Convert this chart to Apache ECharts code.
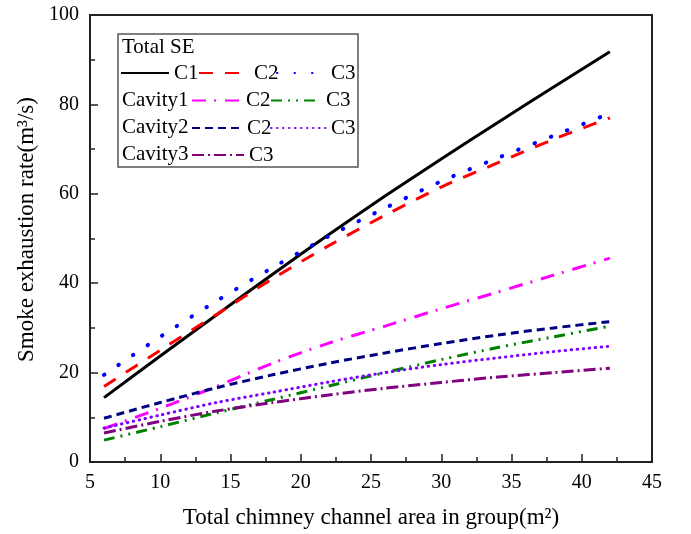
<!DOCTYPE html>
<html>
<head>
<meta charset="utf-8">
<script src="https://cdn.jsdelivr.net/npm/echarts@6/dist/echarts.min.js"></script>
<style>
  html, body { margin: 0; padding: 0; background: #fff; }
  #main { width: 691px; height: 534px; }
</style>
</head>
<body>
<div id="main"></div>
<script>
    // area values (m2)
    var areas = [6, 10, 14, 18, 22, 26, 30, 34, 38, 42];

    // smoke exhaustion rate (m3/s)
    var totalC1 = [14.4, 23.7, 32.9, 42.0, 50.9, 59.5, 67.8, 75.9, 83.9, 91.8];
    var totalC2 = [16.9, 25.0, 33.0, 41.0, 48.4, 55.2, 61.5, 66.9, 72.2, 77.0];
    var totalC3 = [19.5, 28.0, 36.0, 43.5, 50.5, 56.8, 62.8, 68.0, 73.0, 78.0];
    var cavity1C2 = [7.5, 12.0, 16.9, 22.1, 26.6, 30.4, 34.3, 38.0, 41.8, 45.6];
    var cavity1C3 = [4.9, 7.9, 11.0, 14.0, 17.0, 20.0, 22.9, 25.6, 28.0, 30.4];
    var cavity2C2 = [9.8, 13.3, 16.6, 19.5, 22.1, 24.4, 26.5, 28.4, 30.0, 31.4];
    var cavity2C3 = [7.6, 10.5, 13.3, 15.6, 17.9, 20.0, 21.8, 23.3, 24.7, 25.9];
    var cavity3C3 = [6.5, 9.1, 11.4, 13.3, 15.0, 16.5, 17.8, 19.0, 20.0, 21.0];

    var groupLabels = ['Total SE', 'Cavity1', 'Cavity2', 'Cavity3'];

    var serif = 'Liberation Serif';

    function pairs(ys) {
        return areas.map(function (x, i) { return [x, ys[i]]; });
    }

    // name, data, colour, dash, cap, width, legend label, legend left, legend row, icon width
    var lines = [
        ['Total SE C1', totalC1, '#000000', 'solid', 'butt', 3, 'C1', 120, 0, 48],
        ['Total SE C2', totalC2, '#ff0000', [14, 12], 'butt', 3, 'C2', 198, 0, 50],
        ['Total SE C3', totalC3, '#0000ff', [0.5, 17], 'round', 4, 'C3', 276, 0, 49],
        ['Cavity1 C2', cavity1C2, '#ff00ff', [14, 8, 2, 9], 'butt', 3, 'C2', 191, 1, 49],
        ['Cavity1 C3', cavity1C3, '#008000', [11, 6, 2, 6, 2, 6], 'butt', 3, 'C3', 270, 1, 50],
        ['Cavity2 C2', cavity2C2, '#000080', [8, 5], 'butt', 3, 'C2', 191, 2, 50],
        ['Cavity2 C3', cavity2C3, '#7f00ff', [0.5, 5.5], 'round', 3, 'C3', 270, 2, 55],
        ['Cavity3 C3', cavity3C3, '#800080', [12, 4, 2, 4], 'butt', 3, 'C3', 191, 3, 52]
    ];

    var rowY = [73, 100.5, 128, 155];

    var chart = echarts.init(document.getElementById('main'));

    var option = {
        backgroundColor: '#fff',
        animation: false,
        grid: {
            left: 90, right: 39, top: 15, bottom: 66,
            show: true, borderColor: '#222', borderWidth: 2
        },
        xAxis: {
            type: 'value',
            min: 5, max: 45, interval: 5,
            name: 'Total chimney channel area in group(m²)',
            nameLocation: 'middle',
            nameGap: 44,
            nameTextStyle: { fontFamily: serif, fontSize: 23, color: '#000' },
            axisLine: { lineStyle: { color: '#222', width: 2 } },
            axisTick: { inside: true, length: 8, lineStyle: { color: '#222', width: 1.5 } },
            minorTick: { show: true, splitNumber: 2, length: 5, lineStyle: { color: '#222', width: 1.5 } },
            splitLine: { show: false },
            axisLabel: { fontFamily: serif, fontSize: 20, color: '#000', margin: 11 }
        },
        yAxis: {
            type: 'value',
            min: 0, max: 100, interval: 20,
            name: 'Smoke exhaustion rate(m³/s)',
            nameLocation: 'middle',
            nameGap: 38,
            nameTextStyle: { fontFamily: serif, fontSize: 23, color: '#000', padding: [0, 0, 0, 18] },
            axisLine: { lineStyle: { color: '#222', width: 2 } },
            axisTick: { inside: true, length: 8, lineStyle: { color: '#222', width: 1.5 } },
            minorTick: { show: true, splitNumber: 2, length: 5, lineStyle: { color: '#222', width: 1.5 } },
            splitLine: { show: false },
            axisLabel: { fontFamily: serif, fontSize: 20, color: '#000', margin: 11 }
        },
        legend: [],
        graphic: [{
            type: 'rect',
            shape: { x: 118, y: 34, width: 240, height: 133 },
            style: { fill: 'none', stroke: '#555', lineWidth: 1.5 },
            z: 10
        }],
        series: []
    };

    groupLabels.forEach(function (g, i) {
        option.graphic.push({
            type: 'text',
            left: 122,
            top: (i === 0 ? 48 : rowY[i]) - 11,
            style: { text: g, fontFamily: serif, fontSize: 21, fill: '#000' },
            z: 10
        });
    });

    lines.forEach(function (l) {
        option.series.push({
            name: l[0],
            type: 'line',
            data: pairs(l[1]),
            symbol: 'none',
            smooth: 0.3,
            lineStyle: { color: l[2], width: l[5], type: l[3], cap: l[4] },
            itemStyle: { color: l[2] }
        });
        var label = l[6];
        option.legend.push({
            data: [l[0]],
            left: l[7],
            top: rowY[l[8]] - 11,
            padding: 0,
            itemWidth: l[9],
            itemHeight: 14,
            itemStyle: { opacity: 0, borderWidth: 0 },
            formatter: function () { return label; },
            textStyle: { fontFamily: serif, fontSize: 21, color: '#000', lineHeight: 22 }
        });
    });

    chart.setOption(option);
</script>
</body>
</html>
